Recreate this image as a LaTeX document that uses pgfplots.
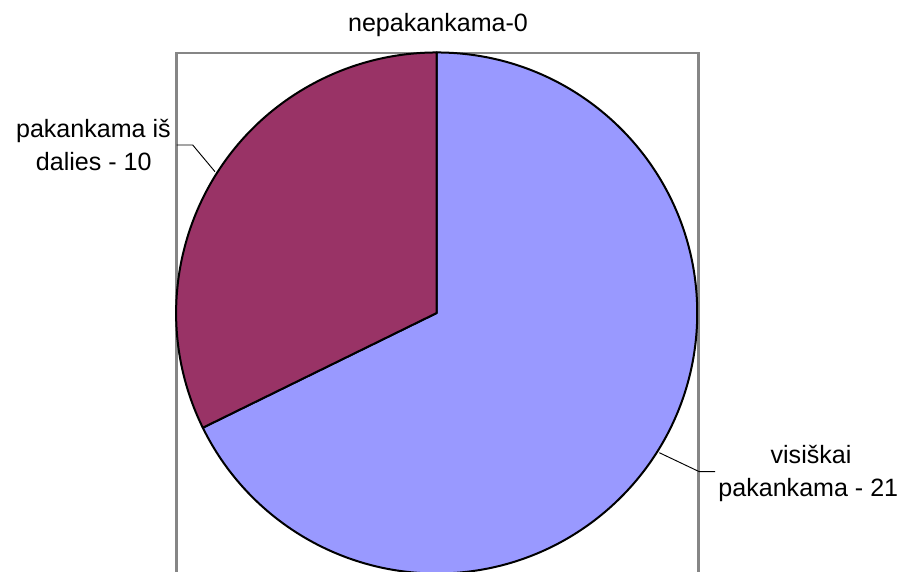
\documentclass[border=0pt]{standalone}
\usepackage{fontspec}
\setmainfont{Liberation Sans}
\usepackage{pgfplots}
\usepackage{pgfplotstable}
\pgfplotsset{compat=1.18}

% pie values, clockwise from the top
\pgfplotstableread{
label value
visiskai 21
dalies 10
nepakankama 0
}\piedata

\definecolor{pieblue}{HTML}{9999FF}
\definecolor{piepurple}{HTML}{993366}
\definecolor{framegray}{HTML}{868686}

\begin{document}
\begin{tikzpicture}
\pgfplotstablegetelem{0}{value}\of\piedata \let\va\pgfplotsretval
\pgfplotstablegetelem{1}{value}\of\piedata \let\vb\pgfplotsretval
\pgfplotstablegetelem{2}{value}\of\piedata \let\vc\pgfplotsretval
\pgfmathsetmacro\tot{\va+\vb+\vc}
\pgfmathsetmacro\ea{90-360*\va/\tot}
\pgfmathsetmacro\eb{\ea-360*\vb/\tot}
\begin{axis}[
scale only axis, width=679.5pt, height=428.25pt,
xmin=0, xmax=906, ymin=0, ymax=571,
axis line style={draw=none}, ticks=none,
]
% plot area frame
\draw[framegray, line width=1.6pt] (axis cs:176.5,-10) -- (axis cs:176.5,518.3) -- (axis cs:698.5,518.3) -- (axis cs:698.5,-10);

% slices
\filldraw[fill=pieblue, draw=black, line width=1.5pt, line join=round]
  (axis cs:436.7,258) -- ++(90:195.4pt) arc[start angle=90, end angle=\ea, radius=195.4pt] -- cycle;
\filldraw[fill=piepurple, draw=black, line width=1.5pt, line join=round]
  (axis cs:436.7,258) -- ++(\ea:195.4pt) arc[start angle=\ea, end angle=\eb, radius=195.4pt] -- cycle;

% leader lines
\draw[black, line width=0.7pt] (axis cs:176.7,426) -- (axis cs:192.7,426) -- (axis cs:215,399.3);
\draw[black, line width=0.7pt] (axis cs:659.3,118.3) -- (axis cs:699.3,99.3) -- (axis cs:715,99.3);

% labels
\tikzset{lbl/.style={anchor=base, inner sep=0pt, font=\fontsize{18.8}{22}\selectfont}}
\node[lbl] at (axis cs:438,539) {nepakankama-0};
\node[lbl] at (axis cs:93.4,433) {pakankama iš};
\node[lbl] at (axis cs:93.8,400.3) {dalies - 10};
\node[lbl] at (axis cs:811,108) {visiškai};
\node[lbl] at (axis cs:808.3,74.3) {pakankama - 21};
\end{axis}
\end{tikzpicture}
\end{document}
